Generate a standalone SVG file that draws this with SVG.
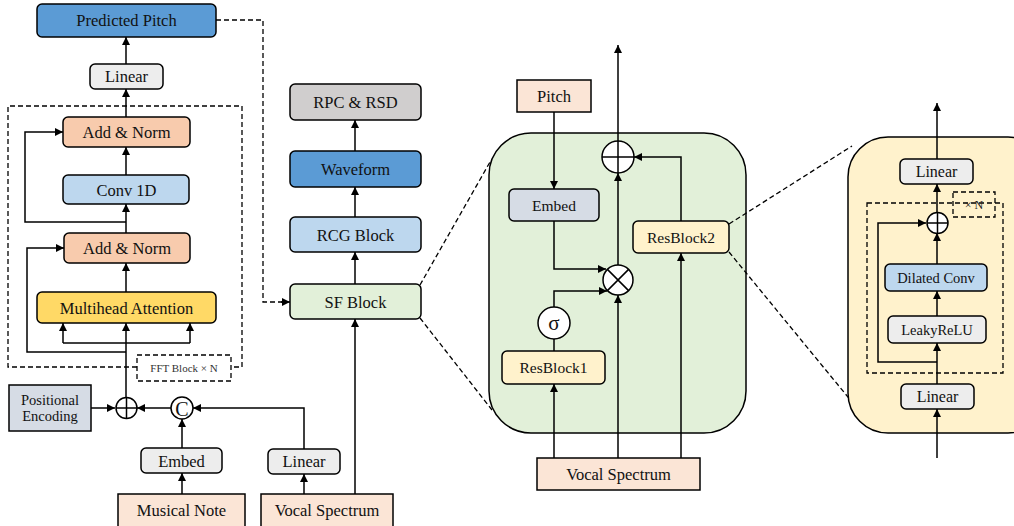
<svg xmlns="http://www.w3.org/2000/svg" width="1014" height="526" viewBox="0 0 1014 526">
<defs>
<marker id="ah" viewBox="0 0 10 10" refX="10" refY="5" markerWidth="9" markerHeight="8" markerUnits="userSpaceOnUse" orient="auto"><path d="M0,0 L10,5 L0,10 z" fill="#000"/></marker>
</defs>
<style>
.b{stroke:#000;stroke-width:1.5}
.t{font-family:"Liberation Serif","Times New Roman","DejaVu Serif",serif;font-size:16.5px;fill:#111;text-anchor:middle}
.s{font-size:14.5px}
.xs{font-size:11px;fill:#333}
.ln{fill:none;stroke:#000;stroke-width:1.5}
.ar{fill:none;stroke:#000;stroke-width:1.5;marker-end:url(#ah)}
.dl{fill:none;stroke:#000;stroke-width:1.3;stroke-dasharray:5 3}
.dk{fill:#5b9bd5}.lb{fill:#bdd7ee}.sa{fill:#f8cbad}.ye{fill:#ffd966}.lg{fill:#ededed}.gr{fill:#d0cece}
.pe{fill:#fbe5d6}.gb{fill:#d6dce5}.gn{fill:#e2f0d9}.py{fill:#fff2cc}
</style>

<g id="zoom-lines-sf">
<path class="dl" d="M420,285 L490,162"/>
<path class="dl" d="M420,318 L492,410"/>
</g>
<g id="sf-detail-panel"><rect x="489" y="133" width="257" height="300" rx="42" class="b gn"/></g>
<g id="zoom-lines-res">
<path class="dl" d="M729,224 L852,146"/>
<path class="dl" d="M729,252 L852,402"/>
</g>
<g id="resblock-detail-panel"><rect x="848" y="137" width="200" height="296" rx="40" class="b py"/></g>
<g id="fft-block-frame">
<path class="dl" d="M137,367 H8 V106 H242 V367 H231"/>
</g>
<g id="inner-repeat-frame"><rect x="867" y="203" width="136" height="170" fill="#fff" class="dl"/></g>

<g id="connectors">
<path class="ar" d="M126,397 V323"/>
<path class="ln" d="M63,343 H190"/>
<path class="ar" d="M63,343 V323"/>
<path class="ar" d="M190,343 V323"/>
<path class="ar" d="M126,352 H27 V248 H64"/>
<path class="ar" d="M126,292 V263"/>
<path class="ar" d="M126,233 V204"/>
<path class="ar" d="M126,222 H25 V132 H63"/>
<path class="ar" d="M126,175 V147"/>
<path class="ar" d="M126,117 V89"/>
<path class="ar" d="M126,64 V37"/>
<path class="ar" d="M91,408 H115"/>
<path class="ar" d="M171,408 H137"/>
<path class="ar" d="M304,449 V408 H193"/>
<path class="ar" d="M182,448 V419"/>
<path class="ar" d="M182,494 V473"/>
<path class="ar" d="M304,494 V474"/>
<path class="ar" d="M355,494 V319"/>
<path class="dl" d="M216,20 H263 V302 H282"/>
<path class="ar" d="M281,302 H290"/>
<path class="ar" d="M355,284 V252"/>
<path class="ar" d="M355,217 V187"/>
<path class="ar" d="M355,151 V120"/>
<path class="ar" d="M554,112 V189"/>
<path class="ar" d="M554,221 V269 H606"/>
<path class="ar" d="M554,307 V291 H607"/>
<path class="ln" d="M554,351 V339"/>
<path class="ar" d="M554,458 V384"/>
<path class="ar" d="M618,458 V295"/>
<path class="ar" d="M681,458 V253"/>
<path class="ar" d="M618,265 V173"/>
<path class="ar" d="M681,221 V157 H634"/>
<path class="ar" d="M618,141 V45"/>
<path class="ar" d="M937,458 V409"/>
<path class="ar" d="M937,384 V343"/>
<path class="ar" d="M937,316 V291"/>
<path class="ar" d="M937,264 V233"/>
<path class="ar" d="M937,362 H878 V223 H926"/>
<path class="ar" d="M937,213 V184"/>
<path class="ar" d="M937,159 V103"/>
</g>

<g id="predicted-pitch"><rect x="37" y="4" width="179" height="33" rx="5" class="b dk"/><text x="126.5" y="26" class="t">Predicted Pitch</text></g>
<g id="linear-top"><rect x="90" y="64" width="73" height="25" rx="5" class="b lg"/><text x="126.5" y="82" class="t">Linear</text></g>
<g id="add-norm-1"><rect x="63" y="117" width="127" height="30" rx="5" class="b sa"/><text x="126.5" y="138" class="t">Add &amp; Norm</text></g>
<g id="conv1d"><rect x="63" y="175" width="126" height="29" rx="5" class="b lb"/><text x="126.5" y="195.5" class="t">Conv 1D</text></g>
<g id="add-norm-2"><rect x="64" y="233" width="126" height="30" rx="5" class="b sa"/><text x="127" y="254" class="t">Add &amp; Norm</text></g>
<g id="multihead-attention"><rect x="37" y="292" width="179" height="31" rx="5" class="b ye"/><text x="126.5" y="313.5" class="t">Multihead Attention</text></g>
<g id="fft-label"><rect x="137" y="355" width="94" height="26" fill="#fff" class="dl"/><text x="184" y="372" class="t xs">FFT Block × N</text></g>
<g id="positional-encoding"><rect x="9" y="385" width="82" height="46" class="b gb"/><text x="50" y="405" class="t s">Positional</text><text x="50" y="421" class="t s">Encoding</text></g>
<g id="add-left"><circle cx="126.5" cy="408" r="10.5" fill="#fff" class="b"/><path class="ln" d="M116,408 H137 M126.5,397.5 V418.5"/></g>
<g id="concat"><circle cx="182" cy="408" r="11" fill="#fff" class="b"/><text x="182" y="415.5" class="t" style="font-size:20px">C</text></g>
<g id="embed-left"><rect x="141" y="448" width="81" height="25" rx="5" class="b lg"/><text x="181.5" y="466.5" class="t">Embed</text></g>
<g id="musical-note"><rect x="118" y="494" width="127" height="34" class="b pe"/><text x="181.5" y="516" class="t">Musical Note</text></g>
<g id="linear-left"><rect x="268" y="449" width="72" height="25" rx="5" class="b lg"/><text x="304" y="467" class="t">Linear</text></g>
<g id="vocal-spectrum-left"><rect x="261" y="494" width="132" height="34" class="b pe"/><text x="327" y="516" class="t">Vocal Spectrum</text></g>

<g id="rpc-rsd"><rect x="290" y="84" width="131" height="36" rx="5" class="b gr"/><text x="355.5" y="108" class="t">RPC &amp; RSD</text></g>
<g id="waveform"><rect x="290" y="151" width="131" height="36" rx="5" class="b dk"/><text x="355.5" y="175" class="t">Waveform</text></g>
<g id="rcg-block"><rect x="290" y="217" width="131" height="35" rx="5" class="b lb"/><text x="355.5" y="240.5" class="t">RCG  Block</text></g>
<g id="sf-block"><rect x="290" y="284" width="131" height="35" rx="5" class="b gn"/><text x="355.5" y="307.5" class="t">SF Block</text></g>

<g id="pitch"><rect x="517" y="80" width="74" height="32" class="b pe"/><text x="554" y="102" class="t">Pitch</text></g>
<g id="embed-mid"><rect x="509" y="189" width="90" height="32" rx="5" class="b gb"/><text x="554" y="210.5" class="t" style="font-size:15.5px">Embed</text></g>
<g id="add-mid"><circle cx="618" cy="157" r="16" fill="#fff" class="b"/><path class="ln" d="M602,157 H634 M618,141 V173"/></g>
<g id="mul-mid"><circle cx="618" cy="280" r="15" fill="#fff" class="b"/><path class="ln" d="M607.4,269.4 L628.6,290.6 M628.6,269.4 L607.4,290.6"/></g>
<g id="sigma"><circle cx="554" cy="323" r="16" fill="#fff" class="b"/><text x="554" y="330" class="t" style="font-size:21px">σ</text></g>
<g id="resblock2"><rect x="633" y="221" width="96" height="32" rx="5" class="b py"/><text x="681" y="242.5" class="t" style="font-size:15.5px">ResBlock2</text></g>
<g id="resblock1"><rect x="502" y="351" width="103" height="33" rx="5" class="b py"/><text x="553.5" y="373" class="t" style="font-size:15.5px">ResBlock1</text></g>
<g id="vocal-spectrum-mid"><rect x="537" y="458" width="163" height="32" class="b pe"/><text x="618.5" y="480" class="t">Vocal Spectrum</text></g>

<g id="linear-out"><rect x="900" y="159" width="73" height="25" rx="5" class="b lg"/><text x="936.5" y="177" class="t" style="font-size:16px">Linear</text></g>
<g id="repeat-label"><rect x="953" y="192" width="42" height="25" fill="#fff" class="dl"/><text x="974" y="208.5" class="t" style="font-size:12px;fill:#222">× N</text></g>
<g id="add-right"><circle cx="937.5" cy="223" r="10.5" fill="#fff" class="b"/><path class="ln" d="M927,223 H948 M937.5,212.5 V233.5"/></g>
<g id="dilated-conv"><rect x="885" y="264" width="102" height="27" rx="5" class="b lb"/><text x="936" y="282.5" class="t s">Dilated Conv</text></g>
<g id="leaky-relu"><rect x="888" y="316" width="98" height="27" rx="5" class="b lg"/><text x="937" y="334.5" class="t s">LeakyReLU</text></g>
<g id="linear-in"><rect x="901" y="384" width="73" height="25" rx="5" class="b lg"/><text x="937.5" y="402" class="t" style="font-size:16px">Linear</text></g>
</svg>
